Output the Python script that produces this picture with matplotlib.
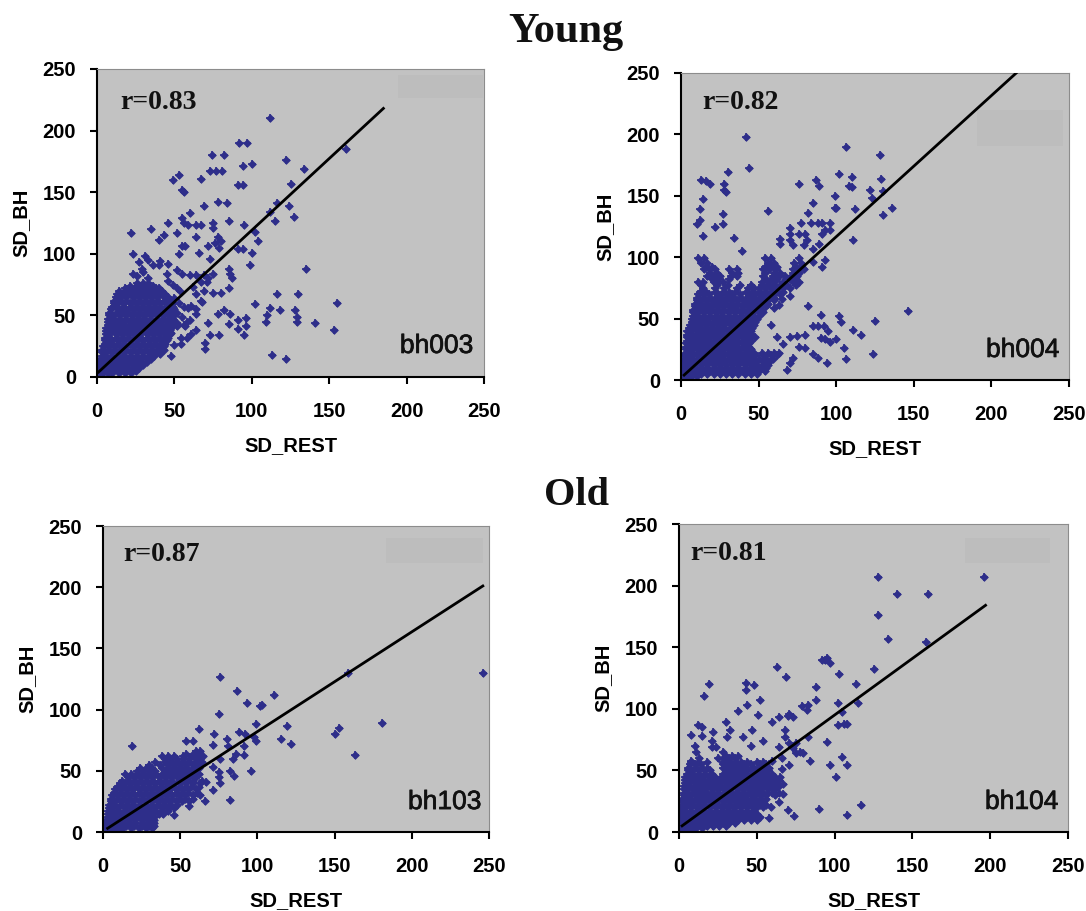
import matplotlib
matplotlib.use('Agg')
import matplotlib.pyplot as plt
import matplotlib.patheffects as pe
from matplotlib.patches import Rectangle

plt.rcParams['font.family'] = ['Liberation Sans', 'DejaVu Sans']

WIDTH = 1086
HEIGHT = 911

TICKS = [0, 50, 100, 150, 200, 250]

# scattered points (x, y)
bh003_x = [112, 92, 97, 74, 82, 122, 94, 134, 100, 73, 77, 81, 49, 53, 67, 91, 94, 125, 161, 55, 56, 78, 84, 69, 116,
           124, 112, 127, 115, 60, 55, 56, 59, 64, 67, 75, 75, 85, 95, 46, 35, 22, 43, 40, 52, 64, 102, 104, 78, 80,
           76, 72, 79, 55, 57, 53, 66, 91, 94, 100, 99, 73, 23, 31, 33, 27, 41, 46, 40, 135, 85, 86, 87, 85, 75,
           23, 30, 45, 52, 55, 60, 64, 69, 72, 67, 71, 62, 69, 75, 80, 64, 67, 68, 61, 64, 64,
           102, 116, 130, 155, 112, 118, 110, 109, 128, 129, 129, 141, 153, 113, 122, 72, 78, 82, 86, 85, 91, 96, 96,
           91, 95, 73, 79, 70, 70, 48, 64, 61, 58, 54, 57, 52, 47, 43, 50, 54, 41,
           26, 29, 33, 36, 46, 49, 52, 54, 50, 53, 56, 59, 52, 55, 58, 52, 48, 56, 60]
bh003_y = [210, 190, 190, 180, 180, 176, 171, 169, 173, 167, 167, 167, 160, 164, 161, 156, 156, 157, 185, 152, 150, 142,
           141, 139, 141, 139, 134, 130, 127, 133, 129, 125, 123, 123, 123, 125, 121, 127, 123, 125, 120, 117, 115, 111,
           117, 114, 118, 110, 114, 110, 109, 106, 105, 106, 106, 100, 101, 104, 104, 101, 91, 96, 100, 98, 95, 93, 94,
           92, 91, 88, 88, 84, 80, 72, 84,
           84, 85, 84, 87, 84, 83, 83, 83, 80, 77, 77, 73, 70, 68, 68, 67, 62, 61, 58, 55, 51,
           59, 67, 67, 60, 56, 54, 50, 45, 54, 49, 45, 44, 38, 18, 15, 44, 51, 54, 51, 43, 46, 48, 41,
           39, 34, 34, 34, 28, 23, 17, 38, 35, 32, 32, 41, 41, 38, 22, 26, 27, 19,
           82, 88, 80, 91, 78, 75, 72, 69, 64, 60, 57, 56, 52, 49, 45, 44, 36, 42, 46]
bh003_rows = [3, 5, 7, 10, 12, 15, 17, 20, 22, 25, 27, 30, 32, 35, 37, 40, 42, 45, 47, 50, 52, 55, 57, 60, 62, 65, 67,
              70, 72, 74, 76]
bh003_row_x = [[1, 4, 7, 10, 14, 18, 22],
               [2, 6, 10, 14, 18, 22, 25],
               [1, 4, 8, 12, 16, 20, 24, 27],
               [1, 3, 7, 11, 15, 19, 23, 27, 30],
               [2, 5, 9, 13, 17, 21, 25, 29, 32],
               [2, 4, 8, 12, 16, 20, 24, 28, 32, 35],
               [3, 6, 10, 14, 18, 22, 26, 30, 34, 37],
               [3, 5, 9, 13, 17, 21, 25, 29, 33, 37, 40],
               [3, 7, 11, 15, 19, 23, 27, 31, 35, 39, 41],
               [4, 7, 11, 15, 19, 23, 27, 31, 35, 39, 43],
               [5, 9, 13, 17, 21, 25, 29, 33, 37, 41, 44],
               [5, 7, 10, 14, 18, 22, 26, 30, 34, 38, 42, 45],
               [5, 8, 12, 16, 20, 24, 28, 32, 36, 40, 43, 46],
               [6, 8, 12, 16, 20, 24, 28, 32, 36, 40, 44, 47],
               [6, 10, 14, 18, 22, 26, 30, 34, 38, 42, 46],
               [6, 8, 12, 16, 20, 24, 28, 32, 36, 40, 44, 48],
               [7, 10, 14, 18, 22, 26, 30, 34, 38, 42, 46, 48],
               [7, 9, 13, 17, 21, 25, 29, 33, 37, 41, 45, 49],
               [7, 11, 15, 19, 23, 27, 31, 35, 39, 43, 47, 49],
               [8, 10, 14, 18, 22, 26, 30, 34, 38, 42, 46, 50],
               [8, 12, 16, 20, 24, 28, 32, 36, 40, 44, 48],
               [9, 14, 19, 23, 27, 31, 35, 39, 43, 47, 50],
               [10, 13, 17, 21, 25, 29, 33, 37, 41, 45, 49],
               [11, 13, 17, 21, 25, 29, 33, 37, 41, 45, 49],
               [11, 15, 19, 23, 27, 31, 35, 39, 43, 47],
               [12, 15, 19, 23, 27, 31, 35, 39, 43, 46],
               [13, 17, 21, 25, 29, 33, 37, 41, 44],
               [14, 19, 23, 27, 31, 35, 39, 42],
               [18, 22, 26, 30, 34, 38, 40],
               [21, 25, 29, 33, 36],
               [26, 30, 33]]

bh004_x = [42, 44, 106, 128, 102, 110, 129, 30, 13, 16, 19, 28, 28, 29, 76, 87, 89, 108, 110, 122, 130, 99, 123,
           14, 12, 56, 85, 99, 100, 112, 136, 27, 82, 130, 12, 10, 22, 27, 77, 84, 88, 91, 96,
           70, 70, 76, 80, 93, 96, 91, 14, 34, 111, 64, 64, 70, 72, 81, 79, 89, 85, 39, 93, 91, 85,
           82, 90, 103, 125, 146, 85, 92, 95, 70, 75, 80, 88, 90, 93, 96, 100, 102, 111, 116,
           105, 124, 106, 94, 85, 88, 80, 76, 72, 68, 70, 66, 58, 60, 65, 63, 70, 62]
bh004_y = [198, 173, 190, 183, 168, 165, 164, 169, 163, 162, 160, 160, 155, 153, 160, 163, 158, 158, 157, 155, 154, 150,
           148, 147, 139, 138, 144, 140, 140, 139, 140, 135, 136, 134, 130, 127, 125, 127, 128, 128, 128, 128, 128,
           124, 119, 119, 119, 122, 122, 119, 117, 116, 114, 115, 111, 114, 110, 114, 110, 111, 107, 105, 98, 92, 96,
           60, 53, 47, 48, 56, 44, 44, 40, 35, 36, 37, 44, 34, 33, 31, 33, 52, 41, 37,
           26, 21, 17, 14, 21, 18, 26, 27, 18, 8, 14, 29, 45, 59, 66, 61, 68, 35]
bh004_rows = [1, 3, 5, 7, 10, 12, 15, 17, 20, 22, 25, 27, 30, 32, 35, 37, 40, 42, 45, 47, 50, 52, 55, 57, 60, 62, 65,
              67, 70, 72, 75, 77, 80, 82, 85, 87, 90, 92, 95, 99]
bh004_row_x = [[1, 3, 6],
               [1, 4, 7, 10],
               [1, 3, 6, 9, 13, 17, 21, 25, 29, 33, 37, 41, 45, 49],
               [1, 4, 7, 11, 15, 19, 23, 27, 31, 35, 39, 43, 47, 50, 54],
               [1, 3, 6, 9, 13, 17, 21, 25, 29, 33, 37, 41, 45, 48, 52, 55],
               [2, 5, 9, 13, 17, 21, 25, 29, 33, 37, 41, 45, 49, 53, 56],
               [2, 4, 8, 12, 16, 20, 24, 28, 32, 36, 40, 44, 48, 53, 57],
               [2, 6, 10, 14, 18, 22, 26, 30, 34, 38, 42, 46, 50, 55, 59],
               [2, 4, 8, 12, 16, 20, 24, 28, 32, 36, 40, 44, 48, 53, 58, 62],
               [3, 6, 10, 14, 18, 22, 26, 30, 34, 38, 43, 47, 52, 56, 60, 63],
               [3, 5, 8, 12, 16, 20, 24, 28, 32, 36, 41, 45],
               [3, 7, 11, 15, 19, 23, 27, 31, 35, 39, 44],
               [3, 5, 9, 13, 17, 21, 25, 29, 33, 37, 41, 44],
               [4, 7, 11, 15, 19, 23, 27, 31, 35, 39, 42, 45],
               [4, 6, 9, 13, 17, 21, 25, 29, 33, 37, 41, 44, 48],
               [4, 8, 12, 16, 20, 24, 28, 32, 36, 40, 43, 46],
               [4, 6, 10, 14, 18, 22, 26, 30, 34, 38, 42, 45],
               [5, 8, 12, 16, 20, 24, 28, 32, 36, 40, 43, 46],
               [6, 9, 12, 16, 20, 24, 28, 32, 36, 40, 44, 47],
               [7, 10, 14, 18, 22, 26, 30, 34, 38, 42, 45, 48],
               [7, 10, 13, 17, 21, 25, 29, 33, 37, 41, 45, 49],
               [8, 11, 15, 19, 23, 27, 31, 35, 39, 43, 47, 50],
               [8, 10, 14, 18, 22, 26, 30, 34, 38, 42, 46, 50, 53],
               [8, 12, 16, 20, 24, 28, 32, 36, 40, 44, 48, 52],
               [9, 11, 15, 19, 23, 27, 31, 35, 39, 43, 47, 51, 55],
               [9, 13, 17, 21, 25, 29, 33, 37, 41, 45, 49, 53, 56],
               [10, 12, 16, 20, 24, 28, 32, 36, 40, 44, 48, 52, 56, 60],
               [10, 14, 18, 22, 26, 30, 34, 38, 42, 46, 50, 54, 60],
               [11, 14, 18, 24, 29, 33, 38, 44, 48, 52, 56, 60, 64],
               [12, 16, 22, 27, 31, 35, 42, 46, 50, 54, 58, 62, 66],
               [14, 22, 28, 36, 43, 47, 50, 54, 58, 62, 66, 70],
               [13, 23, 30, 38, 45, 52, 56, 60, 64, 68, 74],
               [11, 14, 21, 24, 27, 52, 56, 60, 66, 72, 76],
               [20, 24, 31, 55, 58, 62, 70, 74],
               [17, 21, 25, 32, 36, 53, 59, 63, 67, 71, 75],
               [19, 23, 33, 37, 54, 60, 64, 72, 76],
               [15, 18, 22, 31, 36, 53, 57, 61, 72, 76, 79],
               [16, 20, 54, 58, 62, 74, 78],
               [13, 17, 56, 60, 73, 77],
               [11, 15, 54, 58, 76]]

bh103_x = [76, 87, 93, 102, 103, 111, 75, 99, 119, 115, 122, 150, 153, 181, 163, 159, 246, 19, 62, 72, 88, 92,
           80, 98, 99, 71, 81, 91, 54, 58, 86, 91, 84, 96, 82, 82, 85, 14, 66, 56, 46, 75, 76, 71, 75, 67, 71, 76]
bh103_y = [127, 115, 105, 103, 104, 112, 96, 88, 87, 76, 72, 80, 85, 89, 63, 130, 130, 70, 84, 80, 82, 80,
           76, 78, 74, 71, 70, 70, 74, 74, 64, 63, 60, 50, 26, 50, 46, 47, 25, 21, 14, 49, 40, 34, 45, 41, 53, 60]
bh103_rows = [1, 3, 5, 7, 10, 12, 15, 17, 20, 22, 25, 27, 30, 32, 35, 37, 40, 42, 45, 47, 50, 52, 55, 57, 60, 62, 64,
              66]
bh103_row_x = [[3, 6, 10],
               [2, 5, 9, 13, 18, 23, 28, 32],
               [2, 4, 7, 11, 15, 20, 25, 30, 33],
               [2, 5, 9, 13, 17, 21, 25, 29, 33],
               [2, 5, 9, 13, 17, 21, 25, 29, 33],
               [3, 7, 11, 15, 19, 23, 27, 31, 33],
               [3, 5, 8, 12, 16, 20, 24, 28, 32, 36, 39],
               [3, 6, 10, 14, 18, 22, 26, 30, 34, 38, 42],
               [4, 6, 10, 14, 18, 22, 26, 30, 34, 38, 42, 46],
               [4, 8, 12, 16, 20, 24, 28, 32, 36, 40, 44, 48],
               [5, 7, 11, 15, 19, 23, 27, 31, 35, 39, 43, 47, 51, 56],
               [5, 9, 13, 17, 21, 25, 29, 33, 37, 41, 45, 49, 53, 58],
               [6, 9, 13, 17, 21, 25, 29, 33, 37, 41, 45, 49, 53, 58, 63],
               [7, 11, 15, 19, 23, 27, 31, 35, 39, 43, 47, 51, 55, 61],
               [8, 11, 15, 19, 23, 27, 31, 35, 39, 43, 47, 51, 55, 60],
               [9, 13, 17, 21, 25, 29, 33, 37, 41, 45, 49, 53, 57, 62],
               [11, 14, 18, 22, 26, 30, 34, 38, 42, 46, 50, 54, 58, 63],
               [12, 16, 20, 24, 28, 32, 36, 40, 44, 50, 54, 58, 64],
               [16, 20, 24, 28, 32, 36, 40, 44, 48, 52, 56, 60],
               [18, 22, 26, 30, 34, 38, 42, 46, 50, 54, 58, 62],
               [22, 26, 30, 34, 40, 44, 48, 52, 56, 60],
               [24, 28, 32, 38, 42, 46, 50, 54, 58, 62],
               [30, 37, 42, 46, 50, 54, 58, 62],
               [34, 40, 44, 48, 52, 56, 60, 64],
               [40, 44, 48, 52, 56, 60, 63],
               [38, 42, 46, 52, 58, 62, 65],
               [54, 58, 62],
               [60, 63]]

bh104_x = [128, 196, 140, 160, 128, 134, 159, 19, 16, 43, 48, 43, 44, 52, 38, 51,
           63, 69, 94, 92, 95, 97, 103, 114, 125, 88, 88, 79, 83, 82, 102, 115, 105,
           64, 60, 70, 73, 71, 102, 106, 108, 30, 33, 31, 41, 47, 46, 54,
           68, 68, 71, 75, 83, 64, 95, 84, 80, 75, 73, 78, 97, 108, 105, 101, 71, 66, 60,
           90, 117, 108, 74, 58, 70, 67, 64, 59, 67, 65, 66,
           12, 15, 8, 15, 22, 21, 10, 11, 21, 24, 28, 8, 13, 25, 30]
bh104_y = [207, 207, 193, 193, 176, 157, 154, 120, 110, 121, 119, 115, 103, 107, 98, 95,
           134, 126, 140, 140, 141, 137, 128, 120, 132, 118, 107, 102, 103, 99, 105, 105, 97,
           93, 89, 94, 93, 96, 87, 88, 88, 89, 83, 77, 77, 83, 70, 74,
           83, 77, 72, 72, 77, 69, 73, 58, 64, 64, 68, 65, 54, 54, 61, 45, 54, 60, 58,
           19, 22, 14, 13, 11, 18, 31, 24, 20, 39, 45, 51,
           87, 85, 79, 78, 81, 74, 70, 65, 69, 69, 65, 58, 60, 60, 61]
bh104_rows = [1, 3, 5, 7, 10, 12, 15, 17, 20, 22, 25, 27, 30, 32, 35, 37, 40, 42, 45, 47, 50, 52, 55, 57, 60, 62]
bh104_row_x = [[1, 3, 5, 8],
               [1, 4, 7, 11, 15],
               [1, 3, 6, 10, 14, 18, 22, 26, 30],
               [1, 4, 8, 12, 16, 20, 24, 28, 32, 36],
               [1, 3, 6, 10, 14, 18, 22, 26, 30, 34, 38, 42, 46, 50],
               [1, 4, 8, 12, 16, 20, 24, 28, 32, 36, 40, 44, 48, 52],
               [1, 3, 6, 10, 14, 18, 22, 26, 30, 34, 38, 42, 46, 50],
               [1, 4, 8, 12, 16, 20, 24, 28, 32, 36, 40, 44, 48],
               [2, 4, 7, 11, 15, 19, 23, 27, 31, 35, 39, 43, 47, 50, 54],
               [2, 5, 9, 13, 17, 21, 25, 29, 33, 37, 41, 45, 48, 52, 56],
               [2, 4, 8, 12, 16, 20, 24, 28, 32, 36, 40, 44, 47, 50, 54],
               [2, 6, 10, 14, 18, 22, 26, 30, 34, 38, 42, 46, 48, 52, 56],
               [3, 5, 8, 12, 16, 20, 24, 28, 32, 36, 40, 44, 48, 52, 56, 62],
               [3, 6, 10, 14, 18, 22, 26, 30, 34, 38, 42, 46, 50, 54, 60, 64],
               [3, 5, 9, 13, 17, 21, 25, 29, 33, 37, 41, 45, 49, 53, 57, 62],
               [3, 7, 11, 15, 19, 23, 27, 31, 35, 39, 43, 47, 51, 55, 60, 64],
               [4, 6, 10, 14, 18, 22, 26, 30, 34, 38, 42, 46, 50, 54, 58, 62],
               [4, 8, 12, 16, 20, 24, 28, 32, 36, 40, 44, 48, 52, 56, 60, 64],
               [4, 7, 11, 15, 19, 23, 27, 30, 34, 38, 42, 46, 50, 54, 58, 62],
               [5, 9, 13, 17, 21, 28, 32, 36, 40, 44, 48, 52, 56, 60],
               [6, 8, 12, 16, 20, 30, 34, 38, 42, 46, 50, 54, 57],
               [6, 10, 14, 18, 28, 32, 36, 40, 44, 48, 52, 55, 58],
               [7, 10, 14, 28, 30, 34, 38, 42, 46, 52, 56],
               [8, 12, 18, 28, 32, 36, 40, 44, 50, 54],
               [28, 32, 36],
               [30, 34, 38]]

# regression lines (x0, x1), (y0, y1)
line_x = [[1, 185], [2, 216], [3, 246], [2, 197]]
line_y = [[4, 218], [4, 250], [3, 201], [5, 184]]

names = ['bh003', 'bh004', 'bh103', 'bh104']
r_labels = ['r=0.83', 'r=0.82', 'r=0.87', 'r=0.81']

color_bg = '#C2C2C2'
color_box = '#BDBDBD'
color_point = '#2E2E8A'

# axes box in pixels: left, right, top, bottom
boxes = [(97, 484, 69, 377), (681, 1069, 73, 380), (103, 489, 526, 832), (679, 1068, 524, 832)]
# little darker rectangle top right in the axes: x0, x1, y0, y1
grey_boxes = [(.778, .997, .906, .982), (.762, .985, .761, .879), (.734, .984, .88, .96), (.736, .954, .874, .953)]
r_pos = [(0.060, 0.870), (0.054, 0.883), (0.053, 0.886), (0.029, 0.882)]
name_pos = [(0.972, 0.078), (0.975, 0.075), (0.980, 0.075), (0.975, 0.075)]

all_x = [bh003_x, bh004_x, bh103_x, bh104_x]
all_y = [bh003_y, bh004_y, bh103_y, bh104_y]
all_rows = [bh003_rows, bh004_rows, bh103_rows, bh104_rows]
all_row_x = [bh003_row_x, bh004_row_x, bh103_row_x, bh104_row_x]

fig = plt.figure(figsize=(WIDTH / 100, HEIGHT / 100), dpi=100)
fig.patch.set_facecolor('white')

for i in range(4):
    left, right, top, bottom = boxes[i]
    ax = fig.add_axes([left / WIDTH, 1 - bottom / HEIGHT, (right - left) / WIDTH, (bottom - top) / HEIGHT])
    ax.set_facecolor(color_bg)

    gx0, gx1, gy0, gy1 = grey_boxes[i]
    ax.add_patch(Rectangle((gx0, gy0), gx1 - gx0, gy1 - gy0, transform=ax.transAxes, color=color_box, lw=0, zorder=1))

    xs = list(all_x[i])
    ys = list(all_y[i])
    for row, row_x in zip(all_rows[i], all_row_x[i]):
        xs += row_x
        ys += [row] * len(row_x)

    # excel style point: diamond with little tips
    ax.scatter(xs, ys, marker='D', s=20, color=color_point, linewidths=0, zorder=2)
    ax.scatter(xs, ys, marker='+', s=34, color=color_point, linewidths=1.2, zorder=2)
    ax.plot(line_x[i], line_y[i], color='black', lw=2.0, zorder=3)

    ax.set_xlim(0, 250)
    ax.set_ylim(0, 250)
    ax.set_xticks(TICKS)
    ax.set_yticks(TICKS)
    ax.tick_params(length=5, width=1.5, color='black', pad=10, labelsize=14.5)
    for lab in ax.get_xticklabels() + ax.get_yticklabels():
        lab.set_fontweight('bold')
    ax.tick_params(axis='x', pad=13)

    ax.spines['left'].set_linewidth(1.5)
    ax.spines['bottom'].set_linewidth(1.5)
    ax.spines['top'].set_color('#8C8C8C')
    ax.spines['right'].set_color('#8C8C8C')

    ax.set_xlabel('SD_REST', fontsize=14.5, fontweight='bold', labelpad=11)
    ax.set_ylabel('SD_BH', fontsize=14.5, fontweight='bold', labelpad=9)

    ax.text(r_pos[i][0], r_pos[i][1], r_labels[i], transform=ax.transAxes, fontsize=20, fontweight='bold',
            family='Liberation Serif', va='baseline', ha='left', color='#111111')
    name = ax.text(name_pos[i][0], name_pos[i][1], names[i], transform=ax.transAxes, fontsize=19,
                   va='baseline', ha='right', color='#111111')
    name.set_path_effects([pe.withStroke(linewidth=0.5, foreground='#111111')])

fig.text(566 / WIDTH, 1 - 42 / HEIGHT, 'Young', fontsize=30.5, fontweight='bold', family='Liberation Serif',
         ha='center', va='baseline', color='#111111')
fig.text(577 / WIDTH, 1 - 505 / HEIGHT, 'Old', fontsize=29, fontweight='bold', family='Liberation Serif',
         ha='center', va='baseline', color='#111111')

fig.savefig('out.png', dpi=100)
